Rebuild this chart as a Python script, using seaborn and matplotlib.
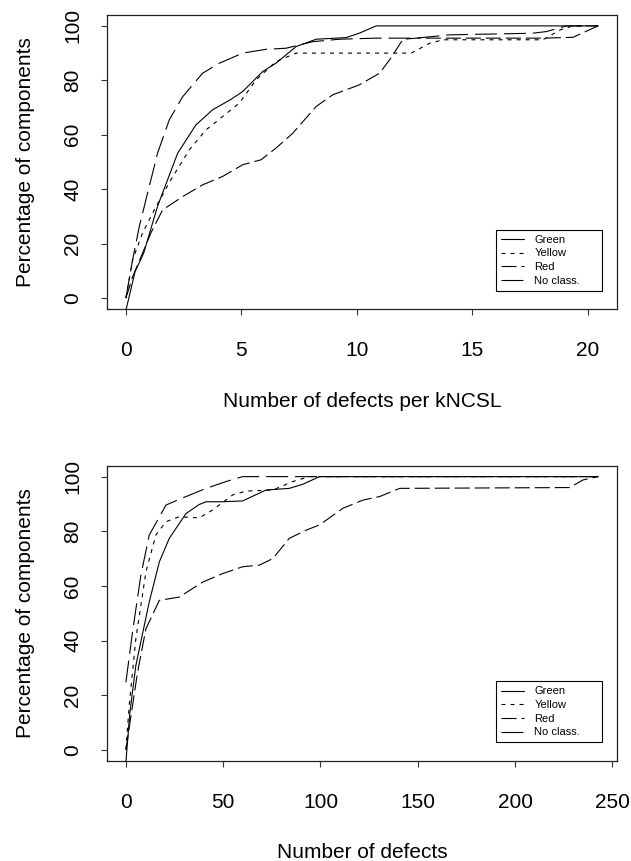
import matplotlib
matplotlib.use("Agg")
import matplotlib.pyplot as plt
import seaborn as sns
import pandas as pd

# ---------------- data ----------------
classes = ["Green", "Yellow", "Red", "No class."]

# Top panel: number of defects per kNCSL
top_green_x = [0, 0.4, 0.77, 1.37, 2.24, 3.03, 3.76, 4.55, 5.06, 5.92, 6.5, 7.37, 8.24, 9.54, 10.1, 10.84, 20.45]
top_green_y = [-4.5, 9.8, 16.5, 33.7, 53.2, 63.6, 69.2, 73, 75.9, 83.2, 86.3, 92.4, 95.1, 95.7, 97.3, 100, 100]
top_yellow_x = [0, 0.29, 0.72, 1.23, 1.95, 2.75, 3.47, 4.19, 4.91, 5.64, 6.5, 7.37, 12.36, 13.15, 13.73, 18.06, 18.8, 19.36, 20.45]
top_yellow_y = [0, 14, 23.9, 32.4, 43.5, 54.5, 61.8, 66.7, 71.6, 80.2, 86.9, 90, 90, 93.6, 94.9, 94.9, 98.5, 100, 100]
top_red_x = [0, 0.3, 0.72, 1.08, 1.59, 2.46, 3.32, 4.19, 5.06, 5.85, 6.5, 7.23, 8.24, 8.96, 10.1, 10.98, 11.42, 12.0, 12.6, 18.1, 19.36, 20.45]
top_red_y = [0, 8, 16.5, 23.9, 32.4, 37.3, 41.6, 44.7, 49, 50.8, 55.1, 60.6, 70.4, 74.7, 78.3, 82.6, 87.5, 95.1, 95.5, 95.5, 95.8, 100]
top_nc_x = [0, 0.29, 0.58, 0.94, 1.37, 1.88, 2.46, 3.32, 4.05, 5.06, 6.07, 6.94, 8.09, 9.25, 10.84, 12.57, 14.0, 17.6, 18.2, 19.08, 20.45]
top_nc_y = [0, 14, 26.3, 38.6, 53.2, 65.5, 74, 82.6, 86.3, 90, 91.4, 91.8, 94.2, 95.1, 95.5, 95.5, 96.7, 97.3, 97.9, 100, 100]

# Bottom panel: number of defects
bot_green_x = [0, 2.06, 5.1, 12, 17.2, 22.3, 30.9, 37.7, 41.2, 49.7, 60, 72, 84, 90.9, 99.5, 242.7]
bot_green_y = [-4.5, 13.7, 30.8, 54.1, 68.8, 77.4, 86.5, 89.8, 90.8, 90.8, 91.1, 95.1, 95.7, 97.2, 100, 100]
bot_yellow_x = [0, 1.7, 5.1, 10.3, 15.4, 20.6, 27.4, 37.7, 44.6, 54.9, 61.7, 75.5, 85.8, 94.3, 242.7]
bot_yellow_y = [0, 16.2, 40.6, 65.1, 78.6, 83.5, 85.3, 84.9, 87.8, 93.3, 94.7, 95.1, 98.2, 100, 100]
bot_red_x = [0, 6, 10.3, 17.2, 27.4, 39.5, 49.7, 60, 68.6, 75.5, 84, 92.6, 99.5, 111.5, 121.8, 130.4, 140.7, 228, 235, 242.7]
bot_red_y = [0, 28.4, 44.3, 54.7, 55.9, 61.4, 64.5, 67, 67.6, 70, 77.4, 80.4, 82.3, 88.4, 91.4, 92.7, 95.7, 96, 98.8, 100]
bot_nc_x = [0, 3.4, 7.7, 12, 20.6, 30.9, 41.2, 51.5, 60, 242.7]
bot_nc_y = [24.7, 43.1, 63.9, 78.6, 89.6, 92.7, 95.7, 98.2, 100, 100]

top_xticks = [0, 5, 10, 15, 20]
bot_xticks = [0, 50, 100, 150, 200, 250]
yticks = [0, 20, 40, 60, 80, 100]
top_xlabel = "Number of defects per kNCSL"
bot_xlabel = "Number of defects"
ylabel = "Percentage of components"

# ---------------- style ----------------
sns.set_style("ticks")
plt.rcParams["font.family"] = ["Liberation Sans", "DejaVu Sans"]
plt.rcParams["lines.scale_dashes"] = False
plt.rcParams["text.color"] = "black"
plt.rcParams["axes.labelcolor"] = "black"

line_styles = {
    "Green": "-",
    "Yellow": (0, (2.9, 3.6)),
    "Red": (0, (10.8, 3.6)),
    "No class.": (0, (15.8, 5.0)),
}

fig = plt.figure(figsize=(6.31, 8.61), dpi=100)
ax_top = fig.add_axes([107 / 631, 1 - 309 / 861, 510 / 631, 294 / 861])
ax_bot = fig.add_axes([107 / 631, 1 - 760.7 / 861, 510 / 631, 295 / 861])


def draw(ax, series, xmax, xticks, xlabel):
    for name, (xs, ys) in zip(classes, series):
        df = pd.DataFrame({"x": xs, "y": ys})
        sns.lineplot(data=df, x="x", y="y", ax=ax, color="black", lw=0.8,
                     estimator=None, sort=False, label=name,
                     linestyle=line_styles[name])
    pad = 0.04 * xmax
    ax.set_xlim(-pad, xmax + pad)
    ax.set_ylim(-4, 104)
    ax.set_xticks(xticks)
    ax.set_yticks(yticks)
    ax.set_xticklabels([str(t) for t in xticks])
    ax.set_yticklabels([str(t) for t in yticks], rotation=90, va="center")
    ax.tick_params(axis="both", direction="out", length=4.3, width=0.8,
                   color="#333333", labelsize=15, labelcolor="black")
    ax.tick_params(axis="x", pad=19)
    ax.tick_params(axis="y", pad=13.5)
    for s in ax.spines.values():
        s.set_visible(True)
        s.set_color("#222222")
        s.set_linewidth(0.9)
    ax.set_xlabel(xlabel, fontsize=15, labelpad=22.5, color="black")
    ax.set_ylabel(ylabel, fontsize=15, labelpad=20.5, color="black")
    ax.grid(False)
    leg = ax.legend(loc="lower left",
                    bbox_to_anchor=(0.7627, 0.062, 0.2078, 0.2075),
                    mode="expand", borderaxespad=0, fontsize=8,
                    frameon=True, fancybox=False,
                    handlelength=2.1, handletextpad=0.9, labelspacing=0.33,
                    borderpad=0.45)
    for t in leg.get_texts():
        t.set_color("black")
    fr = leg.get_frame()
    fr.set_edgecolor("black")
    fr.set_linewidth(0.8)
    fr.set_alpha(1)


draw(ax_top, [(top_green_x, top_green_y), (top_yellow_x, top_yellow_y),
              (top_red_x, top_red_y), (top_nc_x, top_nc_y)],
     20.45, top_xticks, top_xlabel)
draw(ax_bot, [(bot_green_x, bot_green_y), (bot_yellow_x, bot_yellow_y),
              (bot_red_x, bot_red_y), (bot_nc_x, bot_nc_y)],
     242.7, bot_xticks, bot_xlabel)

fig.savefig("out.png", dpi=100, facecolor="white")
